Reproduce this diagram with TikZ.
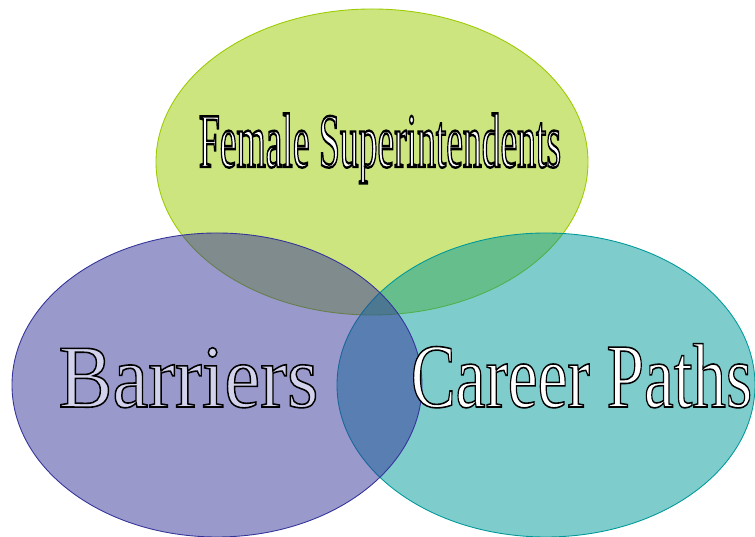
\documentclass[tikz,border=0pt]{standalone}
\usepackage{fontspec}
\setmainfont{Liberation Serif}

\definecolor{fsgreen}{HTML}{9BCB00}
\definecolor{barblue}{HTML}{333399}
\definecolor{pathteal}{HTML}{009999}
\definecolor{barfill}{HTML}{D2D2EC}

% hollow letters: #1 fill colour, #2 outline width, #3 text
\newcommand{\hollowtext}[3]{%
  {\color{#1}\special{pdf:literal 2 Tr #2 w 0 G}#3\special{pdf:literal 0 Tr}}}

\tikzset{
  vennlabel/.style={anchor=base, inner sep=0pt, outer sep=0pt}
}

\begin{document}
\begin{tikzpicture}[x=0.02cm, y=0.02cm]
        \useasboundingbox (0,0) rectangle (755,537);

        % Female Superintendents
        \filldraw[
          line width=0.5pt,
          color=fsgreen,
          fill opacity=0.5
        ] (372,375) ellipse[x radius=216, y radius=153];

        % Career Paths
        \filldraw[
          line width=0.5pt,
          color=pathteal,
          fill opacity=0.5
        ] (546,152) ellipse[x radius=209, y radius=152];

        % Barriers
        \filldraw[
          line width=0.5pt,
          color=barblue,
          fill opacity=0.5
        ] (217,152) ellipse[x radius=205, y radius=152];

        % Labels
        \node[vennlabel, xscale=0.486, font=\fontsize{44}{44}\selectfont]
          (fs) at (380,370) {\hollowtext{white}{1.4}{Female Superintendents}};
        \node[vennlabel, xscale=0.9, font=\fontsize{51}{51}\selectfont]
          (bar) at (188.5,130) {\hollowtext{barfill}{0.9}{Barriers}};
        \node[vennlabel, xscale=0.735, font=\fontsize{52}{52}\selectfont]
          (cp) at (581.5,130) {\hollowtext{white}{0.9}{Career Paths}};
      \end{tikzpicture}
\end{document}
